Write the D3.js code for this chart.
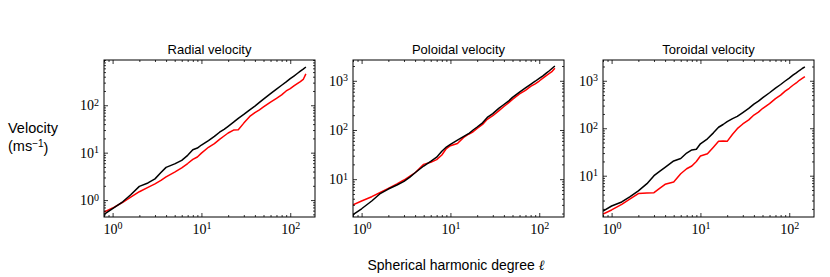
<!DOCTYPE html>
<html>
<head>
<meta charset="utf-8">
<script src="https://cdn.jsdelivr.net/npm/d3@7"></script>
<style>
  body { margin: 0; background: #fff; }
  svg { display: block; }
  .title, .label { font-family: "Liberation Sans", Arial, sans-serif; fill: #000; }
  .tick text { font-family: "Liberation Serif", "DejaVu Serif", serif; font-size: 14px; fill: #000; }
</style>
</head>
<body>
<svg id="canvas"></svg>
<script>
const ell = [0.8, 1, 1.3, 1.6, 2, 2.5, 3, 3.5, 4, 5, 6, 7, 8, 9, 10, 12, 14, 16, 18, 20,
  23, 26, 30, 35, 40, 45, 50, 60, 70, 80, 90, 100, 110, 120, 130, 140, 150];

const radialBlack = [0.5, 0.66, 0.92, 1.3, 1.95, 2.3, 2.8, 3.8, 4.9, 5.8, 6.9, 8.8, 11.5, 12.5, 14.5,
  18, 22, 27, 31, 36, 44, 53, 64, 80, 96, 115, 135, 176, 219, 264, 311, 363, 413, 467, 522, 577, 640];
const radialRed = [0.56, 0.68, 0.9, 1.15, 1.5, 1.85, 2.2, 2.6, 3.1, 3.9, 4.8, 5.9, 7.2, 8.1, 9.8,
  13, 15.5, 19, 22.5, 26, 30, 30.5, 42, 58, 70, 80, 92, 117, 140, 165, 200, 225, 255, 285, 315, 350, 460];

const poloidalBlack = [1.9, 2.5, 3.6, 5.0, 6.3, 7.6, 9.0, 11, 13.5, 18.5, 23, 28, 37, 45, 51,
  62, 73, 84, 100, 115, 140, 180, 215, 275, 330, 385, 460, 590, 720, 850, 980, 1120, 1260, 1430, 1600, 1800, 2000];
const poloidalRed = [3.0, 3.6, 4.4, 5.3, 6.5, 8.0, 9.6, 11.5, 13.5, 20, 22, 25, 31, 42, 48,
  53, 70, 82, 92, 108, 130, 165, 195, 245, 300, 355, 420, 540, 640, 770, 870, 990, 1130, 1280, 1420, 1560, 1800];

const toroidalBlack = [1.8, 2.3, 2.8, 3.6, 4.8, 6.8, 10, 12.5, 15, 20.5, 23, 30, 35, 36, 47,
  60, 80, 105, 120, 138, 160, 178, 214, 262, 322, 372, 436, 560, 700, 835, 990, 1140, 1310, 1465, 1645, 1815, 1960];
const toroidalRed = [1.55, 1.9, 2.5, 3.2, 4.2, 4.3, 4.4, 5.5, 6.6, 7.4, 11, 14, 16, 20, 26,
  29, 40, 53, 54, 53, 75, 98, 123, 150, 190, 218, 260, 330, 420, 500, 605, 695, 805, 900, 1025, 1120, 1220];

const titles = ["Radial velocity", "Poloidal velocity", "Toroidal velocity"];
const xDomain = [0.8, 190];
const yDomains = [[0.44, 900], [1.7, 2650], [1.35, 2740]];
const xMajor = [1, 10, 100];
const yMajors = [[1, 10, 100], [10, 100, 1000], [10, 100, 1000]];

const width = 830;
const height = 277;
const panelLeft = [104, 353, 603];
const panelWidth = 211;
const panelTop = 60;
const panelHeight = 157;

const canvas = d3.select("#canvas").attr("width", width).attr("height", height);

const minorTicks = (domain) => {
  let out = [];
  for (let e = -2; e <= 4; e++) {
    for (let m = 2; m <= 9; m++) {
      let v = m * Math.pow(10, e);
      if (v >= domain[0] && v <= domain[1]) out.push(v);
    }
  }
  return out;
};

const powerLabel = (sel) => {
  sel.each(function (d) {
    let t = d3.select(this);
    t.text("");
    t.append("tspan").text("10");
    t.append("tspan")
      .attr("dy", "-0.45em")
      .style("font-size", "10px")
      .text(Math.round(Math.log10(d)));
  });
};

const panels = [
  [radialBlack, radialRed],
  [poloidalBlack, poloidalRed],
  [toroidalBlack, toroidalRed],
];

panels.forEach((series, i) => {
  const g = canvas.append("g")
    .attr("transform", "translate(" + panelLeft[i] + "," + panelTop + ")");

  const x = d3.scaleLog().domain(xDomain).range([0, panelWidth]);
  const y = d3.scaleLog().domain(yDomains[i]).range([panelHeight, 0]);

  g.append("defs").append("clipPath").attr("id", "clip" + i)
    .append("rect").attr("width", panelWidth).attr("height", panelHeight);

  const line = d3.line()
    .x((d, k) => x(ell[k]))
    .y((d) => y(d));

  // red first, black on top
  [[series[1], "#ff0000"], [series[0], "#000000"]].forEach(([vals, col]) => {
    g.append("path")
      .datum(vals)
      .attr("clip-path", "url(#clip" + i + ")")
      .attr("fill", "none")
      .attr("stroke", col)
      .attr("stroke-width", 1.5)
      .attr("stroke-linejoin", "round")
      .attr("d", line);
  });

  // axes: major + minor on all four sides, ticks pointing inward
  const xm = minorTicks(xDomain);
  const ym = minorTicks(yDomains[i]);

  const bottom = g.append("g").attr("transform", "translate(0," + panelHeight + ")");
  bottom.call(d3.axisBottom(x).tickValues(xMajor).tickSize(-4).tickSizeOuter(0).tickPadding(7));
  bottom.selectAll(".tick text").call(powerLabel);
  bottom.append("g").call(d3.axisBottom(x).tickValues(xm).tickSize(-2).tickSizeOuter(0).tickFormat(""));

  const top = g.append("g");
  top.call(d3.axisTop(x).tickValues(xMajor).tickSize(-4).tickSizeOuter(0).tickFormat(""));
  top.append("g").call(d3.axisTop(x).tickValues(xm).tickSize(-2).tickSizeOuter(0).tickFormat(""));

  const left = g.append("g");
  left.call(d3.axisLeft(y).tickValues(yMajors[i]).tickSize(-4).tickSizeOuter(0).tickPadding(5));
  left.selectAll(".tick text").call(powerLabel);
  left.append("g").call(d3.axisLeft(y).tickValues(ym).tickSize(-2).tickSizeOuter(0).tickFormat(""));

  const right = g.append("g").attr("transform", "translate(" + panelWidth + ",0)");
  right.call(d3.axisRight(y).tickValues(yMajors[i]).tickSize(-4).tickSizeOuter(0).tickFormat(""));
  right.append("g").call(d3.axisRight(y).tickValues(ym).tickSize(-2).tickSizeOuter(0).tickFormat(""));

  g.selectAll(".domain").remove();
  g.selectAll(".tick line").attr("stroke", "#000").attr("stroke-width", 0.8);

  g.append("rect")
    .attr("width", panelWidth)
    .attr("height", panelHeight)
    .attr("fill", "none")
    .attr("stroke", "#000")
    .attr("stroke-width", 1);

  g.append("text")
    .attr("class", "title")
    .attr("x", panelWidth / 2)
    .attr("y", -6)
    .attr("text-anchor", "middle")
    .style("font-size", "13px")
    .text(titles[i]);
});

// y label
const yl = canvas.append("text").attr("class", "label").style("font-size", "14.5px");
yl.append("tspan").attr("x", 8).attr("y", 133).text("Velocity");
const yl2 = canvas.append("text").attr("class", "label").style("font-size", "14.5px")
  .attr("x", 8).attr("y", 151);
yl2.append("tspan").text("(ms");
yl2.append("tspan").attr("dy", "-0.45em").style("font-size", "10px").text("\u22121");
yl2.append("tspan").attr("dy", "0.45em").text(")");

// x label
const xl = canvas.append("text").attr("class", "label")
  .attr("x", 456).attr("y", 270)
  .attr("text-anchor", "middle")
  .style("font-size", "14px");
xl.append("tspan").text("Spherical harmonic degree ");
xl.append("tspan")
  .style("font-family", "'Liberation Serif', serif")
  .style("font-style", "italic")
  .text("\u2113");
</script>
</body>
</html>
